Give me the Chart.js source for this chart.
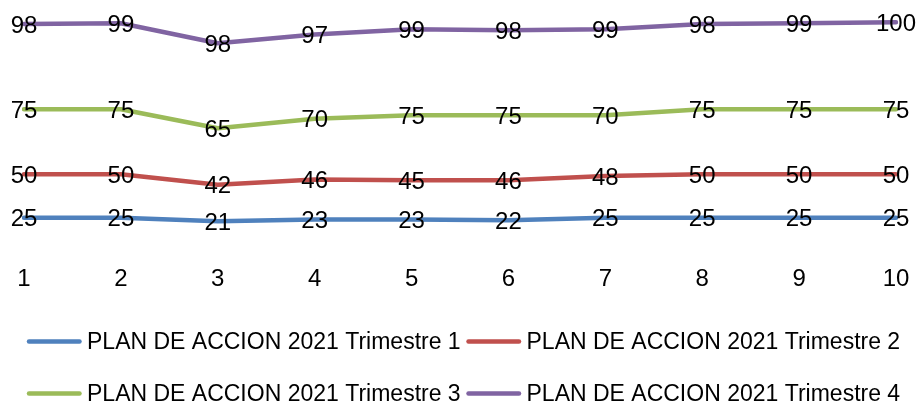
<!DOCTYPE html>
<html>
<head>
<meta charset="utf-8">
<script src="https://cdn.jsdelivr.net/npm/chart.js@4"></script>
<style>
html,body{margin:0;padding:0;background:#fff;}
#wrap{position:relative;width:918px;height:405px;}
</style>
</head>
<body>
<div id="wrap"><canvas id="c"></canvas></div>
<script>
const categories = ['1','2','3','4','5','6','7','8','9','10'];
const trimestre1 = [25,25,21,23,23,22,25,25,25,25];
const trimestre2 = [50,50,42,46,45,46,48,50,50,50];
const trimestre3 = [75,75,65,70,75,75,70,75,75,75];
const trimestre4 = [98,99,98,97,99,98,99,98,99,100];
const seriesNames = [
  'PLAN DE ACCION 2021 Trimestre 1',
  'PLAN DE ACCION 2021 Trimestre 2',
  'PLAN DE ACCION 2021 Trimestre 3',
  'PLAN DE ACCION 2021 Trimestre 4'
];
const seriesColors = ['#4F81BD','#C0504D','#9BBB59','#8064A2'];
const seriesValues = [trimestre1, trimestre2, trimestre3, trimestre4];

const FONT = '"Liberation Sans", Arial, sans-serif';
const FS = 24;
const LEGEND_FS = 23;

const labelsPlugin = {
  id: 'pointLabels',
  afterDatasetsDraw(chart) {
    const ctx = chart.ctx;
    ctx.save();
    ctx.font = FS + 'px ' + FONT;
    ctx.fillStyle = '#000';
    ctx.textAlign = 'center';
    ctx.textBaseline = 'middle';
    chart.data.datasets.forEach((ds, di) => {
      const meta = chart.getDatasetMeta(di);
      meta.data.forEach((pt, i) => {
        ctx.fillText(String(ds.data[i]), pt.x, pt.y + 2);
      });
    });
    ctx.restore();
  }
};

const legendPlugin = {
  id: 'customLegend',
  afterDraw(chart) {
    const ctx = chart.ctx;
    const cols = [27, 466.5];
    const rows = [chart.height - 63.5, chart.height - 11.5];
    ctx.save();
    ctx.font = LEGEND_FS + 'px ' + FONT;
    ctx.textAlign = 'left';
    ctx.textBaseline = 'middle';
    chart.data.datasets.forEach((ds, di) => {
      const x = cols[di % 2];
      const y = rows[Math.floor(di / 2)];
      ctx.strokeStyle = ds.borderColor;
      ctx.lineWidth = 4.5;
      ctx.lineCap = 'round';
      ctx.beginPath();
      ctx.moveTo(x + 2, y);
      ctx.lineTo(x + 52.5, y);
      ctx.stroke();
      ctx.fillStyle = '#000';
      ctx.fillText(ds.label, x + 60, y + 1);
    });
    ctx.restore();
  }
};

new Chart(document.getElementById('c'), {
  type: 'line',
  data: {
    labels: categories,
    datasets: seriesValues.map((vals, i) => ({
      label: seriesNames[i],
      data: vals,
      borderColor: seriesColors[i],
      backgroundColor: seriesColors[i],
      borderWidth: 4.5,
      pointRadius: 0,
      pointHoverRadius: 0,
      tension: 0,
      fill: false,
      borderCapStyle: 'round',
      borderJoinStyle: 'round'
    }))
  },
  options: {
    responsive: true,
    maintainAspectRatio: false,
    animation: false,
    events: [],
    layout: { padding: { left: 24, right: 22, top: 5, bottom: 105.6 } },
    plugins: {
      legend: { display: false },
      tooltip: { enabled: false },
      title: { display: false }
    },
    scales: {
      x: {
        offset: false,
        grid: { display: false },
        border: { display: false },
        ticks: { color: '#000', font: { family: FONT, size: FS }, padding: 18, maxRotation: 0, autoSkip: false },
        afterFit(scale) {
          scale.paddingLeft = 0;
          scale.paddingRight = 0;
          scale.height = 60;
        }
      },
      y: {
        display: false,
        stacked: true,
        min: 0,
        max: 270
      }
    }
  },
  plugins: [labelsPlugin, legendPlugin]
});
</script>
</body>
</html>
